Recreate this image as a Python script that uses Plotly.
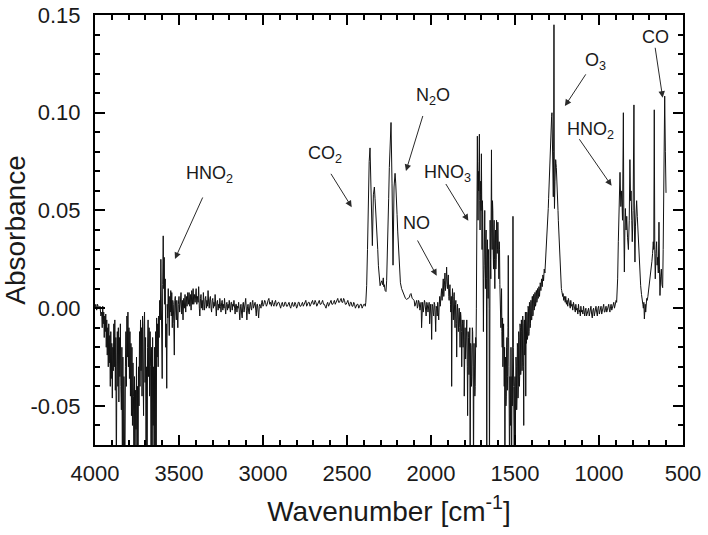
import plotly.graph_objects as go

# ---- spectrum values: (wavenumber cm-1, absorbance) ----
# values below the axis floor (-0.07) are spikes that run off the bottom of the frame
seg_oh_region = [
    (4000, 0.000), (3995, 0.002), (3990, -0.001), (3985, 0.002), (3978, 0.000), (3970, 0.001),
    (3965, -0.004), (3960, -0.002), (3957, -0.010), (3954, 0.001), (3951, -0.008), (3948, -0.002),
    (3945, -0.015), (3942, -0.004), (3939, -0.012), (3936, -0.003), (3933, -0.020), (3930, -0.006),
    (3927, -0.024), (3924, -0.010), (3921, -0.030), (3918, -0.008), (3915, -0.028), (3912, -0.014),
    (3909, -0.040), (3906, -0.012), (3903, -0.036), (3900, -0.018), (3897, -0.046), (3894, -0.020),
    (3891, -0.032), (3888, -0.008), (3885, -0.030), (3882, -0.006), (3879, -0.042), (3876, -0.015),
    (3873, -0.090), (3870, -0.030), (3867, -0.012), (3864, -0.040), (3861, -0.010), (3858, -0.048),
    (3855, -0.015), (3852, -0.035), (3849, -0.008), (3846, -0.040), (3843, -0.052), (3840, -0.020),
    (3837, -0.090), (3834, -0.025), (3831, -0.090), (3828, -0.035), (3825, -0.060), (3822, -0.090),
    (3819, -0.030), (3816, -0.012), (3813, -0.040), (3810, -0.004), (3807, -0.025), (3804, -0.002),
    (3801, -0.030), (3798, -0.010), (3795, -0.036), (3792, -0.012), (3789, -0.045), (3786, -0.018),
    (3783, -0.055), (3780, -0.020), (3777, -0.060), (3774, -0.028), (3771, -0.045), (3768, -0.090),
    (3765, -0.035), (3762, -0.090), (3759, -0.042), (3756, -0.062), (3753, -0.025), (3750, -0.090),
    (3747, -0.040), (3744, -0.090), (3741, -0.030), (3738, -0.050), (3735, -0.012), (3732, -0.040),
    (3729, -0.006), (3726, -0.032), (3723, -0.010), (3720, -0.045), (3717, -0.004), (3714, -0.030),
    (3711, -0.055), (3708, -0.008), (3705, -0.002), (3702, -0.038), (3699, -0.015), (3696, -0.090),
    (3693, -0.030), (3690, -0.090), (3687, -0.020), (3684, -0.006), (3681, -0.035), (3678, -0.010),
    (3675, -0.045), (3672, -0.012), (3669, -0.030), (3666, -0.090), (3663, -0.020), (3660, -0.090),
    (3657, -0.015), (3654, -0.060), (3651, -0.030), (3648, -0.090), (3645, -0.020), (3642, -0.090),
    (3639, -0.012), (3636, -0.090), (3633, -0.005), (3630, -0.025), (3627, -0.008), (3624, -0.030),
    (3621, -0.004), (3618, -0.015), (3615, 0.004), (3611, -0.006), (3608, 0.025), (3605, 0.000),
    (3603, -0.015), (3600, -0.036), (3597, 0.012), (3594, 0.037), (3591, 0.010), (3588, 0.026),
    (3585, 0.002), (3582, 0.015), (3579, -0.020), (3576, -0.008), (3573, -0.041), (3570, 0.002),
    (3567, -0.005), (3564, 0.010), (3561, -0.006), (3558, -0.014), (3555, 0.006), (3552, -0.002),
    (3549, 0.009), (3546, -0.004), (3543, 0.008), (3540, -0.010), (3537, 0.004), (3534, 0.002),
    (3531, -0.008), (3528, -0.024), (3525, 0.004), (3522, 0.006), (3519, -0.002), (3516, -0.006),
    (3513, 0.004), (3510, -0.002), (3507, -0.010), (3504, 0.002), (3500, 0.006), (3496, -0.002),
    (3492, 0.005), (3488, 0.008), (3484, -0.003), (3480, 0.004), (3476, -0.006), (3472, 0.005),
    (3468, 0.000), (3464, 0.007), (3460, -0.002), (3456, 0.006), (3452, 0.001), (3448, 0.008),
    (3444, 0.002), (3440, 0.008), (3436, 0.001), (3432, 0.007), (3428, -0.001), (3424, 0.009),
    (3420, 0.002), (3416, 0.010), (3412, 0.002), (3408, 0.007), (3404, 0.003),
]

seg_flat_region = [
    (3398, 0.010), (3394, 0.002), (3390, 0.006), (3386, 0.003), (3383, 0.011), (3379, 0.000),
    (3376, -0.004), (3372, 0.005), (3369, 0.007), (3365, 0.000), (3362, 0.004), (3358, -0.001),
    (3355, 0.008), (3351, 0.002), (3348, -0.001), (3344, 0.005), (3341, 0.006), (3337, 0.000),
    (3334, 0.004), (3330, 0.001), (3327, 0.009), (3323, 0.002), (3320, 0.000), (3316, 0.005),
    (3313, 0.006), (3309, 0.000), (3306, -0.002), (3302, 0.004), (3299, 0.005), (3295, 0.000),
    (3292, 0.003), (3288, 0.001), (3285, 0.007), (3281, 0.001), (3278, -0.004), (3274, 0.003),
    (3271, 0.004), (3267, -0.001), (3264, 0.002), (3260, 0.000), (3257, 0.005), (3253, 0.001),
    (3250, -0.002), (3246, 0.003), (3243, 0.004), (3239, -0.001), (3236, 0.002), (3232, 0.000),
    (3229, 0.005), (3225, 0.000), (3222, -0.003), (3218, 0.002), (3215, 0.003), (3211, -0.001),
    (3208, 0.002), (3204, 0.000), (3201, 0.004), (3197, 0.000), (3194, -0.002), (3190, 0.003),
    (3187, 0.003), (3183, -0.001), (3180, 0.002), (3176, 0.001), (3173, 0.004), (3169, 0.000),
    (3166, -0.003), (3162, 0.002), (3159, 0.002), (3155, -0.002), (3152, 0.001), (3148, 0.000),
    (3145, 0.003), (3141, -0.002), (3138, -0.006), (3134, 0.001), (3131, 0.002), (3127, -0.003),
    (3124, -0.005), (3120, 0.002), (3117, 0.003), (3113, -0.002), (3110, 0.000), (3106, 0.003),
    (3103, 0.005), (3099, -0.001), (3096, -0.006), (3092, 0.001), (3089, 0.002), (3085, -0.002),
    (3082, -0.003), (3078, 0.002), (3075, 0.003), (3071, 0.000), (3068, -0.001), (3064, 0.003),
    (3061, 0.004), (3057, 0.000), (3054, 0.001), (3050, 0.002), (3047, 0.003), (3043, -0.001),
    (3040, -0.004), (3036, 0.002), (3033, 0.002), (3029, -0.002), (3026, -0.005), (3022, 0.001),
    (3019, 0.002), (3015, 0.001), (3012, 0.000), (3008, 0.003), (3005, 0.004), (3000, 0.001),
    (2995, 0.002), (2990, 0.004), (2985, 0.003), (2980, 0.001), (2975, 0.002), (2970, 0.004),
    (2965, 0.005), (2960, 0.002), (2955, 0.003), (2950, 0.001), (2945, 0.004), (2940, 0.002),
    (2935, 0.001), (2930, 0.003), (2925, 0.004), (2920, 0.001), (2915, 0.002), (2910, 0.003),
    (2905, 0.003), (2900, 0.001), (2895, 0.000), (2890, 0.002), (2885, 0.003), (2880, 0.001),
    (2875, 0.001), (2870, 0.003), (2865, 0.003), (2860, 0.001), (2855, 0.001), (2850, 0.002),
    (2845, 0.003), (2840, 0.001), (2835, 0.000), (2830, 0.002), (2825, 0.003), (2820, 0.001),
    (2815, 0.001), (2810, 0.003), (2805, 0.002), (2800, 0.000), (2795, 0.001), (2790, 0.003),
    (2785, 0.003), (2780, 0.001), (2775, 0.001), (2770, 0.002), (2765, 0.003), (2760, 0.001),
    (2755, 0.002), (2750, 0.003), (2745, 0.004), (2740, 0.001), (2735, 0.002), (2730, 0.003),
    (2725, 0.003), (2720, 0.001), (2715, 0.002), (2710, 0.003), (2705, 0.004), (2700, 0.002),
    (2695, 0.002), (2690, 0.004), (2685, 0.003), (2680, 0.001), (2675, 0.002), (2670, 0.003),
    (2665, 0.004), (2660, 0.002), (2655, 0.002), (2650, 0.003), (2645, 0.004), (2640, 0.002),
    (2635, 0.002), (2630, 0.001), (2625, 0.000), (2620, 0.002), (2615, 0.003), (2610, 0.001),
    (2605, 0.002), (2600, 0.003), (2595, 0.004), (2590, 0.002), (2585, 0.002), (2580, 0.003),
    (2575, 0.004), (2570, 0.002), (2565, 0.003), (2560, 0.004), (2555, 0.005), (2550, 0.003),
    (2545, 0.003), (2540, 0.004), (2535, 0.005), (2530, 0.003), (2525, 0.003), (2520, 0.005),
    (2515, 0.004), (2510, 0.002), (2505, 0.002), (2500, 0.003), (2495, 0.004), (2490, 0.002),
    (2485, 0.001), (2480, 0.003), (2475, 0.003), (2470, 0.001), (2465, 0.001), (2460, 0.003),
    (2455, 0.002), (2450, 0.000), (2445, 0.001), (2440, 0.002), (2435, 0.002), (2430, 0.000),
    (2425, 0.001), (2420, 0.002), (2415, 0.002), (2410, 0.000), (2405, 0.001), (2400, 0.002),
    (2395, 0.002), (2391, 0.001),
]

seg_co2_n2o = [
    (2388, 0.003), (2383, 0.0115), (2378, 0.030), (2373, 0.056), (2368, 0.075), (2363, 0.082),
    (2357, 0.064), (2349, 0.032), (2343, 0.058), (2337, 0.062), (2333, 0.056), (2329, 0.0506),
    (2325, 0.046), (2321, 0.039), (2317, 0.030), (2313, 0.0217), (2308, 0.015), (2303, 0.0115),
    (2298, 0.013), (2293, 0.014), (2288, 0.012), (2284, 0.0155), (2281, 0.011), (2278, 0.012),
    (2273, 0.009), (2268, 0.0085), (2264, 0.014), (2260, 0.025), (2256, 0.040), (2252, 0.056),
    (2248, 0.072), (2244, 0.087), (2238, 0.095), (2232, 0.064), (2226, 0.022), (2220, 0.062),
    (2214, 0.069), (2210, 0.064), (2206, 0.058), (2202, 0.048), (2198, 0.039), (2193, 0.028),
    (2188, 0.0185), (2182, 0.013), (2175, 0.010), (2167, 0.008), (2159, 0.0065), (2152, 0.005),
    (2145, 0.0045), (2137, 0.005), (2129, 0.0055), (2124, 0.007), (2119, 0.0075), (2112, 0.005),
    (2105, 0.0045),
]

seg_no_hno3 = [
    (2100, 0.004), (2096, 0.001), (2092, 0.002), (2088, 0.004), (2085, 0.004), (2081, 0.000),
    (2078, 0.001), (2074, 0.004), (2070, 0.003), (2066, -0.001), (2063, 0.001), (2059, 0.003),
    (2056, -0.010), (2053, 0.002), (2050, 0.003), (2046, -0.002), (2043, 0.001), (2039, 0.004),
    (2036, 0.003), (2032, -0.001), (2029, -0.004), (2025, 0.003), (2022, 0.002), (2018, -0.002),
    (2015, 0.000), (2011, 0.003), (2008, -0.008), (2005, 0.001), (2002, 0.002), (1999, -0.003),
    (1996, -0.016), (1993, 0.002), (1990, 0.001), (1987, -0.002), (1984, -0.004), (1981, 0.003),
    (1978, 0.002), (1975, -0.003), (1972, -0.012), (1969, 0.001), (1966, 0.000), (1963, -0.004),
    (1960, 0.003), (1957, -0.002), (1954, -0.006), (1951, 0.002), (1948, 0.006), (1945, 0.001),
    (1942, 0.004), (1940, 0.008), (1937, 0.010), (1934, 0.004), (1932, 0.006), (1929, 0.012),
    (1927, 0.015), (1924, 0.006), (1922, 0.008), (1919, 0.014), (1917, 0.018), (1914, 0.009),
    (1912, 0.012), (1909, 0.016), (1907, 0.021), (1904, 0.012), (1902, 0.010), (1899, 0.015),
    (1897, 0.017), (1894, 0.006), (1892, 0.004), (1889, 0.010), (1887, 0.012), (1884, 0.002),
    (1882, -0.002), (1879, 0.006), (1877, -0.040), (1874, 0.004), (1872, 0.010), (1869, -0.002),
    (1867, -0.006), (1864, 0.006), (1862, 0.008), (1859, -0.004), (1857, -0.010), (1854, 0.002),
    (1852, 0.004), (1849, -0.008), (1847, -0.025), (1844, -0.002), (1842, 0.002), (1839, -0.006),
    (1837, -0.012), (1834, -0.003), (1832, 0.000), (1829, -0.010), (1827, -0.020), (1824, -0.002),
    (1822, -0.004), (1819, -0.012), (1817, -0.030), (1814, -0.006), (1812, -0.008), (1809, -0.020),
    (1807, -0.016), (1804, -0.006), (1802, -0.045), (1799, -0.014), (1797, -0.010), (1794, -0.026),
    (1792, -0.022), (1789, -0.008), (1787, -0.006), (1784, -0.030), (1782, -0.055), (1779, -0.012),
    (1777, -0.015), (1774, -0.034), (1772, -0.028), (1769, -0.010), (1767, -0.090), (1764, -0.018),
    (1762, -0.020), (1759, -0.040), (1757, -0.035), (1754, -0.010), (1752, -0.012), (1749, -0.030),
    (1747, -0.090), (1744, -0.018), (1742, -0.025), (1739, -0.045), (1737, -0.040), (1734, -0.015),
    (1732, -0.020), (1730, 0.000), (1728, 0.020), (1726, 0.050), (1724, 0.088), (1722, 0.060),
    (1720, 0.045), (1718, 0.070), (1716, 0.060), (1714, 0.075), (1712, 0.089), (1710, 0.055),
    (1708, 0.040), (1706, 0.058), (1704, 0.065), (1702, 0.050), (1700, 0.079), (1698, 0.045),
    (1696, 0.030), (1694, 0.055), (1692, 0.048), (1690, 0.020), (1688, -0.012), (1686, 0.015),
    (1684, 0.022), (1682, 0.040), (1680, 0.050), (1678, 0.025), (1676, 0.010), (1674, 0.035),
    (1672, 0.040), (1670, 0.015), (1668, -0.090), (1666, 0.020), (1664, 0.035), (1662, 0.012),
    (1660, 0.005), (1658, 0.030), (1656, 0.020), (1654, 0.000), (1652, -0.090), (1650, 0.010),
    (1648, 0.045), (1646, 0.025), (1644, 0.015), (1642, 0.050), (1640, 0.081), (1638, 0.040),
    (1636, 0.030), (1634, 0.055), (1632, 0.050), (1630, 0.030), (1628, 0.020), (1626, 0.040),
    (1624, 0.045), (1622, 0.025), (1620, 0.010), (1618, 0.035), (1616, 0.040), (1614, 0.020),
    (1612, 0.025), (1610, 0.045), (1608, 0.042), (1606, 0.028), (1604, 0.030), (1602, 0.044),
    (1600, 0.038), (1598, 0.022), (1596, 0.015), (1594, 0.034), (1592, 0.030), (1590, 0.012),
    (1588, 0.005), (1586, 0.012), (1584, -0.010), (1582, 0.002), (1580, 0.010), (1578, -0.012),
    (1576, -0.020), (1574, -0.005), (1572, -0.030), (1570, -0.015), (1568, -0.008), (1566, -0.028),
    (1564, -0.040), (1562, -0.020), (1560, -0.090), (1558, -0.030), (1556, -0.025), (1554, -0.050),
    (1552, -0.045), (1550, -0.020), (1548, -0.015), (1546, -0.042), (1544, -0.035), (1542, -0.010),
    (1540, 0.027), (1538, -0.015), (1536, -0.030), (1534, -0.055), (1532, -0.090), (1530, -0.035),
    (1528, -0.045), (1526, -0.060), (1524, -0.020), (1522, -0.040), (1520, -0.090), (1518, -0.035),
    (1516, -0.050), (1514, -0.025), (1512, 0.047), (1510, -0.020), (1508, -0.040), (1506, -0.060),
    (1504, -0.090), (1502, -0.040), (1500, -0.035), (1498, -0.065), (1496, -0.055), (1494, -0.025),
    (1492, -0.030), (1490, -0.052), (1488, -0.045), (1486, -0.018), (1484, -0.020), (1482, -0.046),
    (1480, -0.040), (1478, -0.012), (1476, -0.015), (1474, -0.040), (1472, -0.035), (1470, -0.008),
    (1468, -0.010), (1466, -0.034), (1464, -0.030), (1462, -0.006), (1460, -0.012), (1458, -0.032),
    (1456, -0.028), (1454, -0.004), (1452, -0.008), (1450, -0.030), (1448, -0.060), (1446, -0.010),
    (1444, -0.006), (1442, -0.024), (1440, -0.020), (1438, -0.002), (1436, -0.045), (1434, -0.012),
    (1432, -0.018), (1430, -0.002), (1428, -0.003), (1426, -0.016), (1424, -0.014), (1422, 0.001),
    (1420, 0.000), (1418, -0.014), (1416, -0.012), (1414, 0.003), (1412, 0.002), (1410, -0.010),
    (1408, -0.008), (1406, 0.004), (1404, 0.004), (1402, -0.006), (1400, -0.006), (1398, 0.006),
    (1396, 0.006), (1394, -0.004), (1392, -0.003), (1390, 0.007), (1388, 0.007), (1386, -0.001),
    (1384, 0.000), (1382, 0.008), (1380, 0.008), (1378, 0.001), (1376, 0.002), (1374, 0.009),
    (1372, 0.009), (1370, 0.003), (1368, 0.004), (1366, 0.010), (1364, 0.010), (1362, 0.005),
    (1360, 0.006), (1358, 0.011), (1356, 0.010), (1354, 0.006), (1352, 0.008), (1350, 0.013),
    (1348, 0.012), (1346, 0.009), (1344, 0.011), (1342, 0.015), (1340, 0.014), (1338, 0.011),
    (1336, 0.013), (1334, 0.017), (1332, 0.016), (1330, 0.014), (1328, 0.017), (1326, 0.020),
    (1324, 0.019), (1322, 0.018), (1320, 0.021), (1318, 0.025), (1316, 0.026), (1314, 0.028),
    (1312, 0.032), (1310, 0.036), (1308, 0.038), (1306, 0.042), (1304, 0.046), (1302, 0.051),
    (1300, 0.056), (1298, 0.062), (1296, 0.068), (1294, 0.073), (1292, 0.078), (1290, 0.083),
    (1288, 0.088), (1286, 0.092), (1284, 0.096), (1282, 0.098), (1280, 0.100), (1278, 0.088),
    (1276, 0.070), (1274, 0.064), (1272, 0.057), (1270, 0.080), (1268, 0.145), (1266, 0.060),
    (1265, 0.051), (1262, 0.065), (1260, 0.072), (1258, 0.076), (1256, 0.074), (1254, 0.072),
    (1252, 0.069), (1250, 0.066), (1248, 0.060), (1246, 0.055), (1244, 0.050), (1242, 0.045),
    (1240, 0.040), (1238, 0.034), (1236, 0.029), (1234, 0.024), (1232, 0.019), (1230, 0.016),
    (1228, 0.013), (1226, 0.012), (1224, 0.010), (1222, 0.009), (1220, 0.007), (1218, 0.0085),
    (1216, 0.006), (1214, 0.0075),
]

seg_low_region = [
    (1210, 0.004), (1205, 0.006), (1201, 0.003), (1198, 0.006), (1194, 0.002), (1190, 0.004),
    (1186, 0.001), (1182, 0.005), (1178, 0.002), (1175, 0.003), (1171, 0.000), (1168, 0.004),
    (1164, 0.001), (1160, 0.002), (1156, -0.001), (1152, 0.003), (1148, 0.000), (1145, 0.001),
    (1141, -0.002), (1138, 0.002), (1134, -0.001), (1130, 0.000), (1126, -0.003), (1122, 0.002),
    (1118, -0.002), (1115, -0.001), (1111, -0.004), (1108, 0.001), (1104, -0.002), (1100, -0.001),
    (1096, -0.003), (1092, 0.001), (1088, -0.002), (1085, -0.004), (1081, -0.001), (1078, 0.000),
    (1074, -0.004), (1070, -0.002), (1066, -0.001), (1062, 0.000), (1058, -0.004), (1055, -0.002),
    (1051, -0.001), (1048, 0.001), (1044, -0.003), (1040, -0.005), (1036, -0.001), (1032, 0.000),
    (1028, -0.004), (1025, -0.002), (1021, -0.001), (1018, 0.001), (1014, -0.002), (1010, -0.004),
    (1006, 0.000), (1002, 0.001), (998, -0.003), (995, -0.002), (991, 0.000), (988, 0.001),
    (984, -0.003), (980, -0.001), (976, 0.001), (972, 0.002), (968, -0.002), (965, -0.002),
    (961, 0.000), (958, 0.001), (954, -0.002), (950, -0.001), (946, 0.001), (942, 0.002),
    (938, -0.001), (935, -0.002), (931, 0.001), (928, 0.002), (924, -0.001), (920, 0.000),
    (916, 0.002), (912, 0.003), (908, 0.000), (905, 0.001), (901, 0.003), (898, 0.004),
    (895, 0.003), (893, 0.006), (889, 0.015), (885, 0.034), (880, 0.055), (875, 0.0695),
    (870, 0.052), (865, 0.060), (860, 0.045), (855, 0.100), (852, 0.040), (849, 0.0185),
    (846, 0.040), (843, 0.051), (839, 0.040), (835, 0.047), (830, 0.036), (825, 0.030),
    (820, 0.045), (816, 0.076), (812, 0.055), (809, 0.060), (805, 0.045), (802, 0.034),
    (797, 0.050), (792, 0.104), (789, 0.040), (786, 0.0236), (783, 0.042), (780, 0.051),
    (776, 0.055), (772, 0.047), (766, 0.035), (760, 0.0206), (756, 0.015), (752, 0.0115),
    (747, 0.007), (742, 0.005), (739, 0.002), (736, 0.000), (733, 0.003), (730, -0.0055),
    (727, 0.001), (725, 0.002), (722, -0.002), (720, 0.000), (716, 0.005), (713, 0.004),
    (709, 0.006), (706, 0.008), (702, 0.010), (699, 0.012), (695, 0.016), (692, 0.017),
    (688, 0.020), (685, 0.024), (681, 0.028), (677, 0.034), (674, 0.030), (671, 0.1015),
    (668, 0.030), (665, 0.015), (661, 0.028), (657, 0.034), (654, 0.022), (651, 0.026),
    (647, 0.018), (643, 0.044), (640, 0.020), (637, 0.0065), (633, 0.016), (629, 0.020),
    (625, 0.012), (621, 0.0105), (618, 0.030), (615, 0.058), (612, 0.090), (609, 0.1085),
    (605, 0.080), (601, 0.059),
]

# ---- labels of the bands: (text, text position, arrow tail, arrow head) in data units ----
band_labels = ["HNO<sub>2</sub>", "CO<sub>2</sub>", "N<sub>2</sub>O", "HNO<sub>3</sub>",
               "NO", "O<sub>3</sub>", "HNO<sub>2</sub>", "CO"]
label_wn = [3321, 2631, 1988, 1902, 2089, 1019, 1049, 662]
label_ab = [0.0685, 0.0787, 0.1083, 0.069, 0.0435, 0.1262, 0.091, 0.1387]
arrow_tail_wn = [3355, 2601, 2046, 1917, 2085, 1073, 1123, 667]
arrow_tail_ab = [0.0574, 0.0695, 0.0991, 0.0643, 0.0354, 0.1204, 0.0872, 0.1340]
arrow_head_wn = [3524, 2472, 2149, 1778, 1966, 1203, 925, 621]
arrow_head_ab = [0.0252, 0.0517, 0.0702, 0.0447, 0.0166, 0.1034, 0.0626, 0.1077]

y_tickvals = [-0.05, 0.00, 0.05, 0.10, 0.15]
y_ticktext = ["-0.05", "0.00", "0.05", "0.10", "0.15"]
x_tickvals = [4000, 3500, 3000, 2500, 2000, 1500, 1000, 500]
x_range = [4000, 500]
y_range = [-0.07, 0.15]

spectrum = seg_oh_region + seg_flat_region + seg_co2_n2o + seg_no_hno3 + seg_low_region
wn = [p[0] for p in spectrum]
ab = [p[1] for p in spectrum]

FONT = "Liberation Sans, Arial, Helvetica, sans-serif"

fig = go.Figure()
fig.add_trace(go.Scatter(x=wn, y=ab, mode="lines",
                         line=dict(color="#111111", width=1.0),
                         hoverinfo="skip", showlegend=False))
# invisible copy on the overlaid axes so the top/right tick axes are drawn
fig.add_trace(go.Scatter(x=wn, y=ab, mode="lines", xaxis="x2", yaxis="y2",
                         line=dict(color="rgba(0,0,0,0)", width=0),
                         hoverinfo="skip", showlegend=False))

annotations = []
for t, lx, ly, tx, ty, hx, hy in zip(band_labels, label_wn, label_ab,
                                     arrow_tail_wn, arrow_tail_ab,
                                     arrow_head_wn, arrow_head_ab):
    annotations.append(dict(x=lx, y=ly, xref="x", yref="y", text=t, showarrow=False,
                            font=dict(family=FONT, size=18, color="#1a1a1a"),
                            xanchor="center", yanchor="middle"))
    annotations.append(dict(x=hx, y=hy, xref="x", yref="y", ax=tx, ay=ty,
                            axref="x", ayref="y", text="", showarrow=True,
                            arrowhead=2, arrowsize=1.3, arrowwidth=1,
                            arrowcolor="#2a2a2a", standoff=0, startstandoff=0))

tick_style = dict(ticks="inside", ticklen=10, tickwidth=2, tickcolor="black",
                  showgrid=False, zeroline=False, automargin=False)
x_minor = dict(dtick=100, ticks="inside", ticklen=5, tickwidth=1.6, tickcolor="black")
y_minor = dict(dtick=0.01, ticks="inside", ticklen=5, tickwidth=1.6, tickcolor="black")

fig.update_layout(
    width=708, height=535,
    margin=dict(l=95, r=25, t=15, b=90),
    paper_bgcolor="white", plot_bgcolor="white",
    annotations=annotations,
    xaxis=dict(range=x_range, tickvals=x_tickvals,
               showline=True, linecolor="black", linewidth=2, mirror=True,
               ticklabelstandoff=8, minor=x_minor,
               tickfont=dict(family=FONT, size=22, color="#1a1a1a"),
               title=dict(text="Wavenumber [cm<sup>-1</sup>]", standoff=16,
                          font=dict(family=FONT, size=28, color="#1a1a1a")),
               **tick_style),
    yaxis=dict(range=y_range, tickvals=y_tickvals, ticktext=y_ticktext,
               showline=True, linecolor="black", linewidth=2, mirror=True,
               ticklabelstandoff=8, ticklabeloverflow="allow", minor=y_minor,
               tickfont=dict(family=FONT, size=22, color="#1a1a1a"),
               title=dict(text="Absorbance", standoff=4,
                          font=dict(family=FONT, size=28, color="#1a1a1a")),
               **tick_style),
    xaxis2=dict(range=x_range, overlaying="x", side="top", anchor="y",
                tickvals=x_tickvals, showticklabels=False,
                showline=False, minor=x_minor, **tick_style),
    yaxis2=dict(range=y_range, overlaying="y", side="right", anchor="x",
                tickvals=y_tickvals, showticklabels=False,
                showline=False, minor=y_minor, **tick_style),
)

# the browser's default 8 px body margin would shift the figure; remove it
fig.write_html("out.html", config={"displayModeBar": False},
               post_script="document.body.style.margin='0px';")
